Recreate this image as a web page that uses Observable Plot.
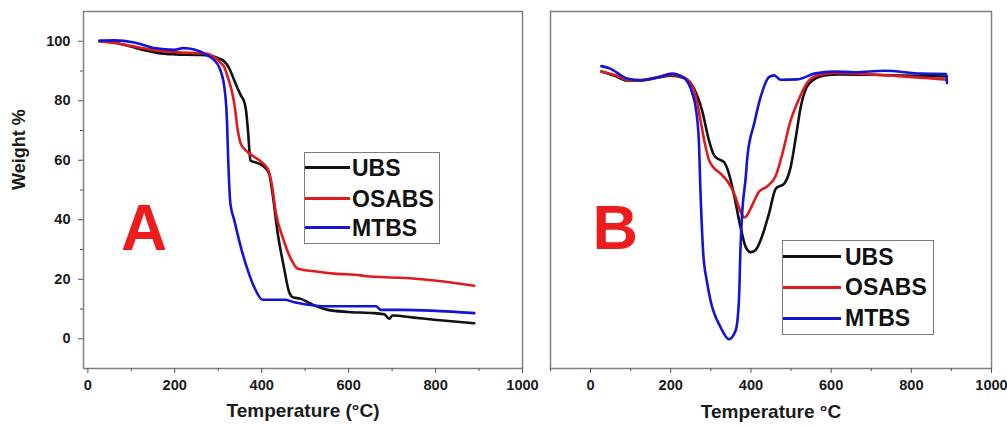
<!DOCTYPE html>
<html>
<head>
<meta charset="utf-8">
<script src="https://cdn.jsdelivr.net/npm/d3@7"></script>
<script src="https://cdn.jsdelivr.net/npm/@observablehq/plot@0.6"></script>
<style>
  html, body { margin: 0; padding: 0; background: #fff; }
  body { width: 1007px; height: 428px; position: relative; overflow: hidden;
         font-family: "Liberation Sans", Arial, Helvetica, sans-serif; }
  .panel { position: absolute; top: 0; }
  .legend { position: absolute; box-sizing: border-box; border: 1.5px solid #7c7c7c; background: #fff; }
  .legend .sw { position: absolute; height: 3px; }
  .legend .lb { position: absolute; font-size: 23px; font-weight: bold; line-height: 22px; color: #111; white-space: nowrap; }
</style>
</head>
<body>
<div id="pa" class="panel" style="left:0;width:545px;"></div>
<div id="pb" class="panel" style="left:520px;width:487px;"></div>
<script>
// ---------- data ----------
const seriesNames  = ["UBS", "OSABS", "MTBS"];
const seriesColors = ["#111111", "#e01b1e", "#1414d6"];

const xMajorTicks = [0, 200, 400, 600, 800, 1000];
const xMinorTicksA = [100, 300, 500, 700, 900];
const xMinorTicksB = [-100, 100, 300, 500, 700, 900];
const yMajorTicksA = [0, 20, 40, 60, 80, 100];
const yMinorTicksA = [10, 30, 50, 70, 90];

// Panel A: TGA, [temperature °C, weight %]
const tgaUBS = [
  [27,100],[60,99.6],[100,98.2],[130,97],[160,96.1],[200,95.6],[250,95.4],[280,95.2],[291,94.8],[305,94],
  [314,93.2],[325,91],[337,86.8],[345,84],[352,81.8],[360,79.5],[364,76.7],[369,68.9],[374,59.9],[383,59.4],
  [398,58.6],[406,57.7],[417,55.5],[425,48.7],[437,35.3],[451,24.1],[463,15.7],[471,14],[490,13.4],[505,12.4],
  [521,11.2],[552,9.7],[600,9],[659,8.6],[682,8.2],[693,6.7],[701,7.8],[750,7.1],[797,6.4],[889,5.2]
];
const tgaOSABS = [
  [27,100],[60,99.4],[100,98.4],[150,97.1],[200,96.4],[250,96],[276,95.8],[291,94.6],[305,92.8],[314,91.3],
  [322,87.9],[330,84],[337,79],[345,70],[352,65.5],[368,62.7],[395,59.9],[414,57.1],[423,52.1],[433,42],
  [448,34.2],[467,26.9],[483,23.5],[521,22.7],[567,21.9],[628,21.3],[640,21],[720,20.5],[797,19.6],[889,17.8]
];
const tgaMTBS = [
  [27,100.2],[60,100.3],[107,99.6],[153,97.7],[199,97.1],[219,97.7],[245,97.2],[276,95.2],[291,93.6],[302,91.3],
  [314,84.6],[320,73.5],[323,59.9],[328,45.4],[337,39.8],[352,30.8],[368,23],[383,17.3],[402,13.1],[452,13.1],
  [475,12.3],[521,11.2],[552,10.9],[663,10.9],[674,9.7],[720,9.7],[889,8.6]
];

// Panel B: DTG (arbitrary units), [temperature °C, signal]
const dtgUBS = [
  [27,83.2],[60,82],[91,80.7],[124,80.7],[170,81.5],[199,82],[233,81.4],[258,78.4],[278,72.3],[295,64],
  [308,59.7],[320,58.6],[333,57.8],[345,54.6],[357,49],[374,39.6],[387,34],[399,32.6],[410,33],[424,35.9],
  [445,43.4],[462,50.4],[483,51.8],[499,56.4],[512,64.8],[524,73.2],[545,79.8],[583,82.1],[620,82.4],[700,82.3],[889,81.8]
];
const dtgOSABS = [
  [27,83.2],[60,82.2],[91,80.9],[124,80.8],[170,81.6],[200,82.2],[233,81.5],[254,79],[265,75],[275,69],
  [285,63],[295,58.5],[305,56.5],[325,54.5],[341,52.5],[358,49],[374,44],[383,42.3],[390,42.8],[400,45],
  [420,49.5],[440,51],[462,54],[478,60],[499,69.5],[516,74.5],[541,80.2],[566,82.1],[608,82.8],[741,82.1],[889,80.9]
];
const dtgMTBS = [
  [27,84.7],[49,84],[91,81.2],[124,80.7],[174,81.8],[203,82.6],[233,81.4],[254,77],[262,73.2],[270,63.9],
  [274,49.9],[281,32.2],[290,24.5],[299,19.1],[324,11.6],[345,8.2],[362,10.7],[370,19.1],[374,34],[378,43.4],
  [387,53.6],[391,59.2],[408,68.6],[424,76],[445,81.6],[458,82.1],[474,80.9],[516,81],[558,82.6],[608,83.2],
  [658,83],[733,83.4],[825,82.6],[887,82.5],[889,80]
];

const tgaSeries = [tgaUBS, tgaOSABS, tgaMTBS];
const dtgSeries = [dtgUBS, dtgOSABS, dtgMTBS];

function toRows(list) {
  return list.flatMap((pts, i) => pts.map(([t, v]) => ({series: seriesNames[i], t, v})));
}

const FONT = '"Liberation Sans", Arial, Helvetica, sans-serif';
const baseStyle = {background: "transparent", overflow: "visible", fontFamily: FONT,
                   fontSize: "14.6px", fontWeight: "bold", color: "#1a1a1a", maxWidth: "none"};
const color = {domain: seriesNames, range: seriesColors};
const fmt = d => String(d);

// ---------- Panel A ----------
const plotA = Plot.plot({
  width: 545, height: 428,
  marginLeft: 83, marginRight: 23, marginTop: 11, marginBottom: 60,
  style: baseStyle,
  x: {domain: [-10, 1000]},
  y: {domain: [-10, 110]},
  color,
  marks: [
    Plot.frame({stroke: "#808080", strokeWidth: 1.5}),
    Plot.axisX({ticks: xMajorTicks, tickFormat: fmt, tickSize: 5, tickPadding: 6, label: null, stroke: "#555", fill: "#1a1a1a"}),
    Plot.axisX({ticks: xMinorTicksA, tickSize: 3, tickFormat: () => "", label: null, stroke: "#555"}),
    Plot.axisY({ticks: yMajorTicksA, tickFormat: fmt, tickSize: 5, tickPadding: 8, label: null, stroke: "#555", fill: "#1a1a1a"}),
    Plot.axisY({ticks: yMinorTicksA, tickSize: 3, tickFormat: () => "", label: null, stroke: "#555"}),
    Plot.line(toRows(tgaSeries), {x: "t", y: "v", z: "series", stroke: "series", strokeWidth: 2.6, curve: "monotone-x"}),
    Plot.text(["A"], {frameAnchor: "top-left", dx: 60.5, dy: 193, fontSize: 64, fontWeight: "bold", fill: "#ee1c1c", textAnchor: "middle"}),
    Plot.text(["Weight %"], {frameAnchor: "left", dx: -64, rotate: -90, fontSize: 18, fontWeight: "bold", fill: "#1a1a1a"}),
    Plot.text(["Temperature (\u00B0C)"], {frameAnchor: "bottom", dy: 48.6, fontSize: 19, fontWeight: "bold", fill: "#1a1a1a"})
  ]
});
document.getElementById("pa").appendChild(plotA);

// ---------- Panel B ----------
const plotB = Plot.plot({
  width: 487, height: 428,
  marginLeft: 30, marginRight: 16, marginTop: 11, marginBottom: 60,
  style: baseStyle,
  x: {domain: [-100, 1000]},
  y: {domain: [0, 100], axis: null},
  color,
  marks: [
    Plot.frame({stroke: "#808080", strokeWidth: 1.5}),
    Plot.axisX({ticks: xMajorTicks, tickFormat: fmt, tickSize: 5, tickPadding: 6, label: null, stroke: "#555", fill: "#1a1a1a"}),
    Plot.axisX({ticks: xMinorTicksB, tickSize: 3, tickFormat: () => "", label: null, stroke: "#555"}),
    Plot.line(toRows(dtgSeries), {x: "t", y: "v", z: "series", stroke: "series", strokeWidth: 2.6, curve: "monotone-x"}),
    Plot.text(["B"], {frameAnchor: "top-left", dx: 64.8, dy: 193, fontSize: 63, fontWeight: "bold", fill: "#ee1c1c", textAnchor: "middle"}),
    Plot.text(["Temperature \u00B0C"], {frameAnchor: "bottom", dy: 49.6, fontSize: 19, fontWeight: "bold", fill: "#1a1a1a"})
  ]
});
document.getElementById("pb").appendChild(plotB);

// ---------- Legends (HTML overlays) ----------
function makeLegend(box, rowCenters, lineW, textLeft) {
  const el = document.createElement("div");
  el.className = "legend";
  Object.assign(el.style, {left: box[0] + "px", top: box[1] + "px", width: box[2] + "px", height: box[3] + "px"});
  seriesNames.forEach((name, i) => {
    const sw = document.createElement("div");
    sw.className = "sw";
    Object.assign(sw.style, {left: "0px", width: lineW + "px", top: (rowCenters[i] - 1.5 - 1.5) + "px", background: seriesColors[i]});
    el.appendChild(sw);
    const lb = document.createElement("div");
    lb.className = "lb";
    lb.textContent = name;
    Object.assign(lb.style, {left: textLeft + "px", top: (rowCenters[i] - 11 - 1.5) + "px"});
    el.appendChild(lb);
  });
  document.body.appendChild(el);
}
makeLegend([304, 152, 136, 92], [16, 47, 76], 45, 47);
makeLegend([782, 240, 152, 95], [17, 47.5, 78.5], 58, 62);
</script>
</body>
</html>
